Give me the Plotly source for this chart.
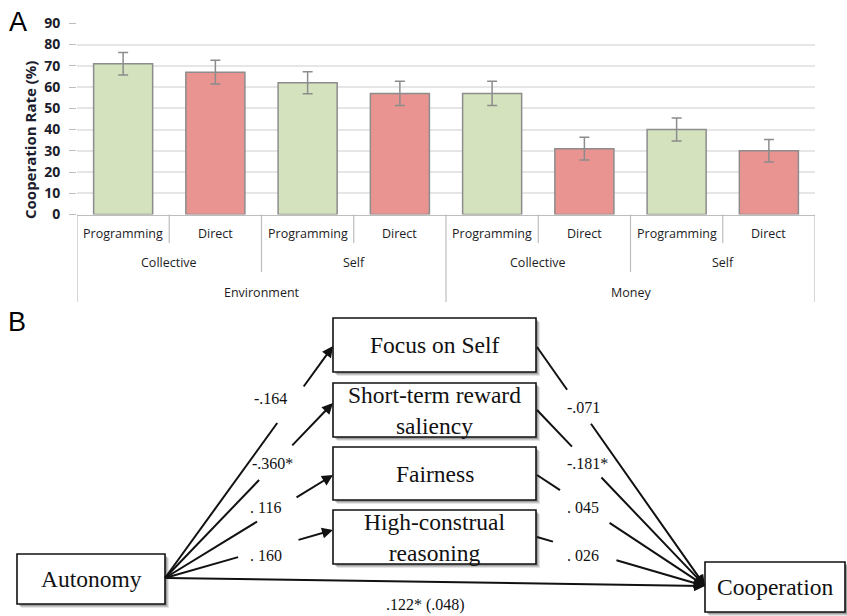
import plotly.graph_objects as go

W, H = 847, 616

# ---- Panel A data: cooperation rate by domain / target / decision mode ----
conditions = ["Programming", "Direct"] * 4
targets = ["Collective", "Collective", "Self", "Self"] * 2
domains = ["Environment"] * 4 + ["Money"] * 4
coop_rate = [71, 67, 62, 57, 57, 31, 40, 30]
coop_err = [5.3, 5.6, 5.2, 5.7, 5.7, 5.4, 5.4, 5.3]
y_ticks = [0, 10, 20, 30, 40, 50, 60, 70, 80, 90]

# ---- Panel B data: mediation model ----
predictor = "Autonomy"
outcome = "Cooperation"
mediators = ["Focus on Self", "Short-term reward<br>saliency", "Fairness",
             "High-construal<br>reasoning"]
a_paths = ["-.164", "-.360*", ". 116", ". 160"]
b_paths = ["-.071", "-.181*", ". 045", ". 026"]
c_path = ".122* (.048)"

# ---- styling ----
bar_colors = {"Programming": "#d4e2bd", "Direct": "#ea9491"}
edge_gray = "#8c8c8c"
axis_gray = "#bdbdbd"
label_font = dict(family="Open Sans, sans-serif", size=12.5, color="#1c1c24")
serif = "Liberation Serif, Times New Roman, serif"


def P(x):
    return x / W


def Q(y):
    return 1 - y / H


fig = go.Figure()
xpos = list(range(len(coop_rate)))
fig.add_trace(go.Bar(
    x=xpos, y=coop_rate,
    marker=dict(color=[bar_colors[c] for c in conditions],
                line=dict(color=edge_gray, width=1.5)),
    error_y=dict(type="data", array=coop_err, color=edge_gray,
                 thickness=1.5, width=5),
    hoverinfo="skip", showlegend=False,
))

# plot area of panel A (pixels)
AX_L, AX_R, AX_T, AX_B = 77, 815, 23.3, 214.5

fig.update_layout(
    width=W, height=H, margin=dict(l=0, r=0, t=0, b=0),
    paper_bgcolor="white", plot_bgcolor="white",
    bargap=0.36, showlegend=False,
    xaxis=dict(domain=[P(AX_L), P(AX_R)], range=[-0.5, len(xpos) - 0.5],
               showticklabels=False, showgrid=False, zeroline=False, automargin=False,
               showline=True, linecolor=axis_gray, linewidth=1.2, ticks=""),
    yaxis=dict(domain=[Q(AX_B), Q(AX_T)], range=[0, 90], tickvals=y_ticks,
               showgrid=True, gridcolor="#e6e6e6", gridwidth=1.5, automargin=False,
               zeroline=False, showline=False,
               ticks="outside", ticklen=7, tickwidth=1.2, tickcolor=axis_gray,
               ticklabelstandoff=6,
               tickfont=dict(family="Open Sans, sans-serif", size=14,
                             color="#1c1c2c", weight="bold")),
)

shapes = []
annotations = []


def text_at(text, x, y, font, xref="paper", **kw):
    annotations.append(dict(text=text, xref=xref, yref="paper", x=x, y=y,
                            xanchor="center", yanchor="middle", showarrow=False,
                            font=font, **kw))


# y-axis title
text_at("<b>Cooperation Rate (%)</b>", P(30), Q(140),
        dict(family="Open Sans, sans-serif", size=15, color="#1c1c2c"), textangle=-90)

# hierarchical category axis: dividers
ROW_Y = [233, 262, 292]
DIV_END = [243, 272, 302]
n = len(xpos)
for b in range(-1, n):
    xb = b + 0.5
    if b in (-1, n - 1):
        end = DIV_END[2]
    elif domains[b] != domains[b + 1]:
        end = DIV_END[2]
    elif targets[b] != targets[b + 1]:
        end = DIV_END[1]
    else:
        end = DIV_END[0]
    shapes.append(dict(type="line", xref="x", yref="paper", x0=xb, x1=xb,
                       y0=Q(AX_B), y1=Q(end), line=dict(color=axis_gray, width=1.2)))


def groups(keys):
    out = []
    start = 0
    for i in range(1, len(keys) + 1):
        if i == len(keys) or keys[i] != keys[start]:
            out.append((keys[start], (start + i - 1) / 2))
            start = i
    return out


level_keys = [conditions,
              [d + "|" + t for d, t in zip(domains, targets)],
              domains]
for row, keys in enumerate(level_keys):
    for key, cx in groups(keys):
        text_at(key.split("|")[-1], cx, Q(ROW_Y[row]), label_font, xref="x")

# panel letters
for letter, (lx, ly) in {"A": (18, 22), "B": (17, 322)}.items():
    text_at(letter, P(lx), Q(ly),
            dict(family="Liberation Sans, Arial, sans-serif", size=27, color="black"))

# ---- Panel B layout (pixel boxes) ----
box_pred = (17, 554, 165, 604)
box_out = (705, 562, 845, 612)
box_med = [(333, 318, 536, 372), (333, 383, 536, 437),
           (333, 447, 536, 500), (333, 510, 536, 564)]


def draw_box(b, text):
    x0, y0, x1, y1 = b
    for off, alpha in ((4, 0.10), (3, 0.14), (2, 0.18)):
        shapes.append(dict(type="rect", xref="paper", yref="paper",
                           x0=P(x0 + off), x1=P(x1 + off), y0=Q(y0 + off), y1=Q(y1 + off),
                           fillcolor=f"rgba(0,0,0,{alpha})", line=dict(width=0),
                           layer="above"))
    shapes.append(dict(type="rect", xref="paper", yref="paper",
                       x0=P(x0), x1=P(x1), y0=Q(y0), y1=Q(y1),
                       fillcolor="white", line=dict(color="#111111", width=1.6),
                       layer="above"))
    text_at(text, P((x0 + x1) / 2), Q((y0 + y1) / 2),
            dict(family=serif, size=23.5, color="#111111"))


def line_seg(p, q):
    shapes.append(dict(type="line", xref="paper", yref="paper",
                       x0=P(p[0]), y0=Q(p[1]), x1=P(q[0]), y1=Q(q[1]),
                       line=dict(color="#111111", width=2), layer="above"))


def arrow_seg(p, q):
    annotations.append(dict(text="", xref="paper", yref="paper",
                            x=P(q[0]), y=Q(q[1]), ax=p[0] - q[0], ay=p[1] - q[1],
                            showarrow=True, arrowhead=2, arrowsize=1.1,
                            arrowwidth=2, arrowcolor="#111111", standoff=0))


def lerp(p, q, t):
    return (p[0] + (q[0] - p[0]) * t, p[1] + (q[1] - p[1]) * t)


def coef_label(text, pos):
    text_at(text, P(pos[0]), Q(pos[1]), dict(family=serif, size=16, color="#111111"))


src = (165, 578)
dst = (705, 586)
a_heads = [(333, 346), (333, 403), (333, 475), (333, 530)]
a_gaps = [(0.668, 0.819), (0.56, 0.749), (0.548, 0.774), (0.435, 0.786)]
a_label_pos = [(270, 398), (272, 463), (265, 507), (266, 555)]
b_tails = [(537, 347), (537, 410), (537, 475), (537, 537)]
b_gaps = [(0.179, 0.315), (0.208, 0.375), (0.137, 0.423), (0.095, 0.464)]
b_label_pos = [(583, 407), (587, 463), (583, 507), (583, 555)]

# boxes first so the connectors sit on top of their shadows
draw_box(box_pred, predictor)
draw_box(box_out, outcome)
for b, med in zip(box_med, mediators):
    draw_box(b, med)

# direct path
arrow_seg(src, dst)
coef_label(c_path, (425, 605))

for i, med in enumerate(mediators):
    head = a_heads[i]
    t0, t1 = a_gaps[i]
    line_seg(src, lerp(src, head, t0))
    arrow_seg(lerp(src, head, t1), head)
    coef_label(a_paths[i], a_label_pos[i])

    tail = b_tails[i]
    t0, t1 = b_gaps[i]
    line_seg(tail, lerp(tail, dst, t0))
    arrow_seg(lerp(tail, dst, t1), dst)
    coef_label(b_paths[i], b_label_pos[i])

fig.update_layout(shapes=shapes, annotations=annotations)
fig.write_html("out.html")
